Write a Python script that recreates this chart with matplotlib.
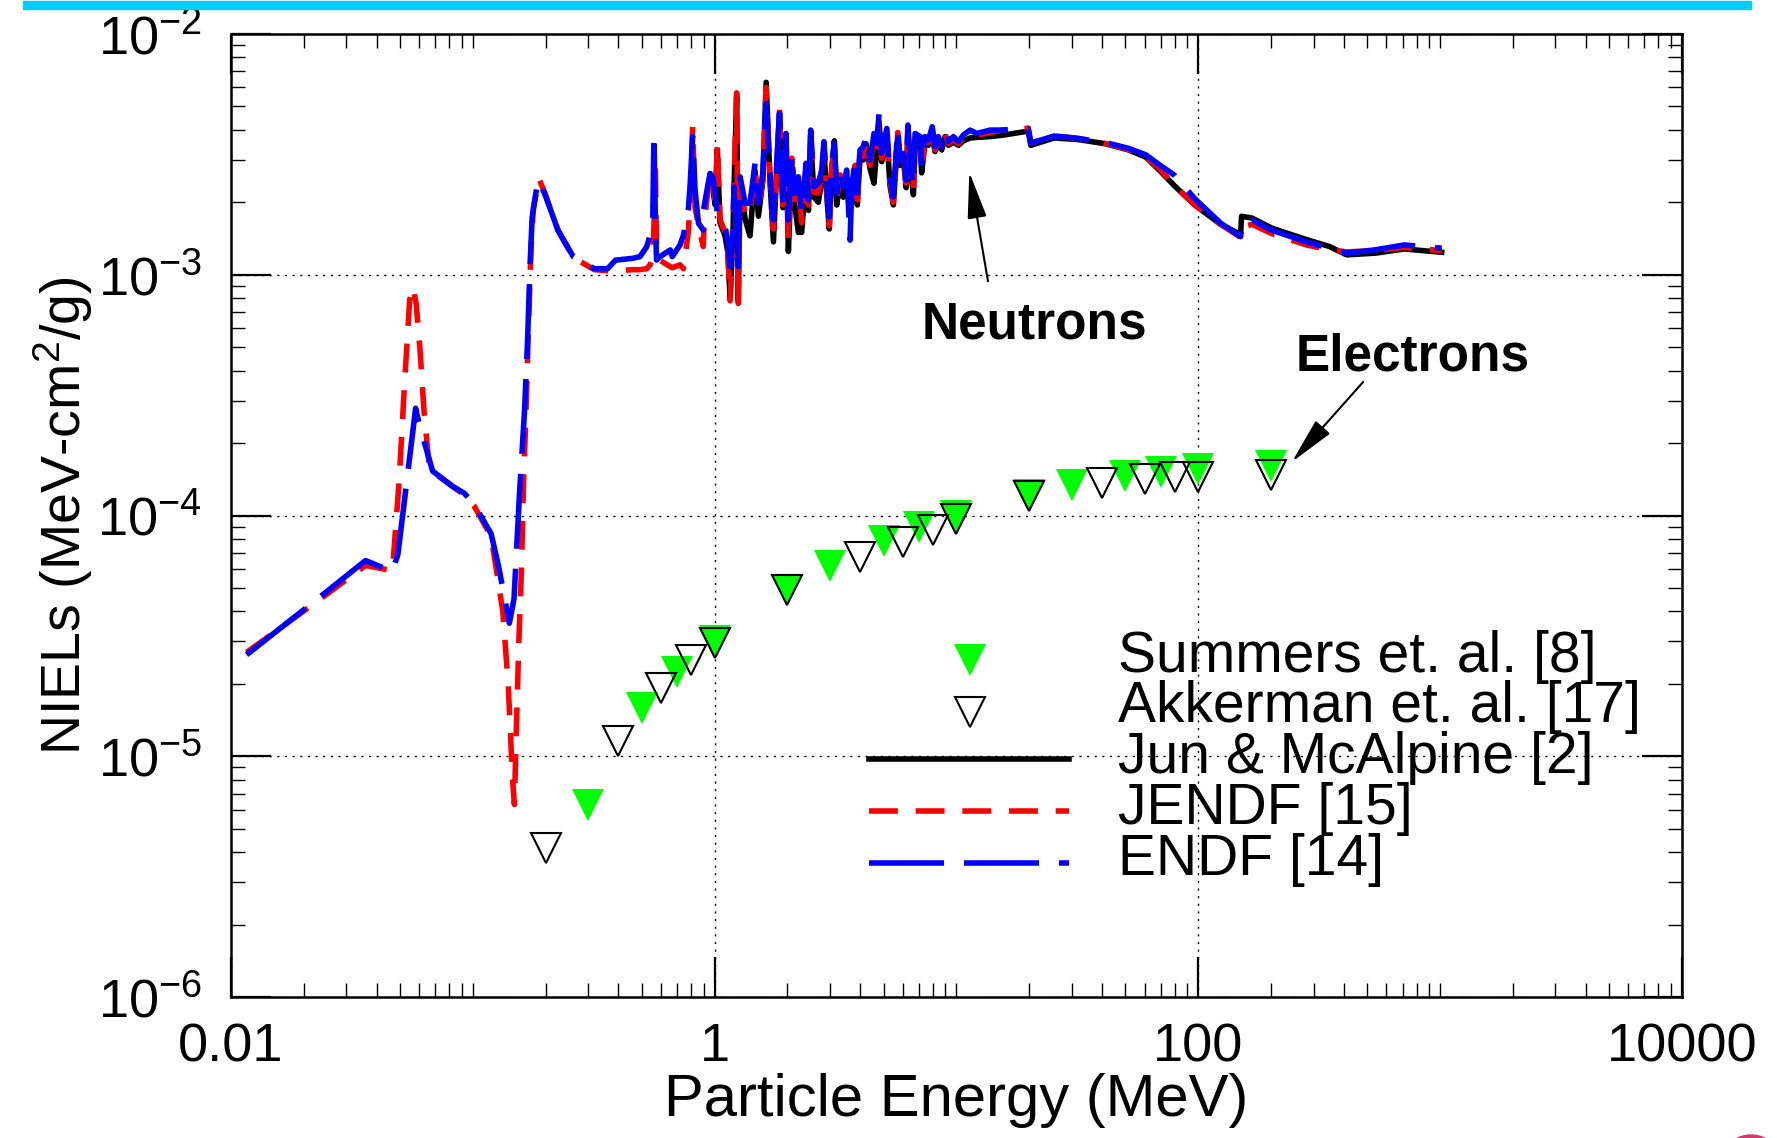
import matplotlib
matplotlib.use('Agg')
import matplotlib.pyplot as plt
from matplotlib.lines import Line2D
from matplotlib.patches import Rectangle, Ellipse
from matplotlib.ticker import LogLocator, FuncFormatter, NullFormatter

plt.rcParams['font.family'] = ['Liberation Sans', 'DejaVu Sans']
plt.rcParams['mathtext.fontset'] = 'custom'
plt.rcParams['mathtext.rm'] = 'Liberation Sans'
plt.rcParams['mathtext.it'] = 'Liberation Sans:italic'
plt.rcParams['mathtext.bf'] = 'Liberation Sans:bold'

# NIEL values below are in units of 1e-3 MeV-cm^2/g
# --- low energy part (below the resonance region)
endf_lo_e = [0.0116, 0.0234, 0.036, 0.0465, 0.049, 0.0527, 0.058, 0.0603, 0.0682, 0.0826,
             0.092, 0.101, 0.119, 0.128, 0.1416, 0.148, 0.156, 0.1637, 0.168, 0.1726,
             0.176, 0.186, 0.198, 0.225, 0.26, 0.318, 0.361, 0.389, 0.458]
endf_lo = [0.0264, 0.046, 0.065, 0.0585, 0.069, 0.126, 0.279, 0.235, 0.153, 0.132,
           0.124, 0.112, 0.084, 0.061, 0.0357, 0.045, 0.124, 0.275, 0.50, 1.12,
           1.74, 2.48, 2.18, 1.53, 1.19, 1.06, 1.06, 1.15, 1.17]

jendl_lo_e = [0.0116, 0.0234, 0.036, 0.0465, 0.0495, 0.0522, 0.0548, 0.0565, 0.0583, 0.0605,
              0.0628, 0.0662, 0.0826, 0.092, 0.101, 0.119, 0.125, 0.133, 0.140, 0.146,
              0.1486, 0.151, 0.155, 0.159, 0.162, 0.166, 0.170, 0.174, 0.178, 0.188,
              0.198, 0.225, 0.26, 0.318, 0.361, 0.40, 0.458]
jendl_lo = [0.027, 0.045, 0.062, 0.059, 0.136, 0.354, 0.785, 0.89, 0.76, 0.486,
            0.274, 0.155, 0.132, 0.122, 0.110, 0.082, 0.060, 0.040, 0.020, 0.008,
            0.0063, 0.012, 0.030, 0.061, 0.136, 0.274, 0.63, 1.27, 1.90, 2.50,
            2.20, 1.53, 1.18, 1.05, 1.04, 1.04, 1.05]

# --- resonance region (shared energy grid)
res_e = [0.491, 0.524, 0.541, 0.555, 0.561, 0.568, 0.575, 0.594, 0.655, 0.668,
         0.719, 0.743, 0.778, 0.791, 0.811, 0.830, 0.857, 0.897, 0.904, 0.957,
         0.982, 1.005, 1.026, 1.052, 1.104, 1.132, 1.159, 1.189, 1.202, 1.233,
         1.253, 1.274, 1.337, 1.400, 1.469, 1.517, 1.581, 1.633, 1.694, 1.750,
         1.795, 1.854, 1.914, 1.972, 2.018, 2.084, 2.138, 2.218, 2.291, 2.388,
         2.443, 2.495, 2.576, 2.685, 2.773, 2.831, 2.911, 2.979, 3.048, 3.126,
         3.199, 3.304, 3.404, 3.516, 3.631, 3.690, 3.811, 3.890, 3.990, 4.121,
         4.227, 4.395, 4.560, 4.677, 4.786, 4.909, 5.152, 5.309, 5.483, 5.715,
         5.848, 6.039, 6.194, 6.295, 6.427, 6.637, 6.745, 7.079, 7.178, 7.413,
         7.656, 7.943, 8.147, 8.414, 8.690, 8.974, 9.268, 9.705, 10.19, 10.69,
         11.38, 12.13, 13.77]
endf_res = [1.189, 1.309, 1.462, 1.742, 3.864, 1.799, 1.151, 1.189, 1.268, 1.189,
            1.330, 1.462, 1.858, 2.323, 3.750, 2.249, 1.637, 1.535, 1.919, 2.636,
            2.553, 2.178, 1.799, 1.687, 1.585, 1.393, 1.081, 1.393, 2.323, 1.393,
            1.081, 2.553, 1.982, 1.982, 2.904, 1.982, 2.636, 5.152, 2.636, 1.687,
            2.553, 4.677, 2.046, 3.864, 1.687, 3.192, 2.178, 2.553, 1.799, 2.904,
            2.046, 3.990, 2.323, 2.399, 2.723, 3.573, 2.323, 1.742, 2.904, 3.516,
            2.178, 2.723, 2.323, 2.723, 1.393, 2.323, 2.992, 2.178, 3.296, 3.404,
            3.750, 2.992, 3.864, 3.516, 4.677, 3.192, 4.055, 2.553, 2.109, 4.055,
            2.992, 3.192, 2.477, 4.188, 3.090, 2.323, 3.864, 3.750, 2.812, 3.750,
            3.631, 4.121, 3.404, 3.750, 3.404, 3.990, 3.573, 3.750, 3.573, 3.811,
            3.990, 3.864, 3.990]
jendl_res = [1.05, 1.06, 1.10, 1.20, 1.60, 3.00, 1.30, 1.15, 1.08, 1.07,
             1.10, 1.06, 1.50, 1.98, 4.12, 1.90, 1.60, 1.31, 1.60, 2.72,
             2.40, 2.05, 3.50, 1.70, 1.50, 1.30, 0.78, 1.45, 2.30, 5.70,
             0.76, 2.60, 1.75, 1.80, 2.80, 1.85, 2.50, 6.00, 2.50, 1.55,
             2.45, 4.85, 1.95, 3.70, 1.40, 3.05, 2.05, 2.45, 1.65, 2.80,
             1.95, 3.80, 2.20, 2.20, 2.60, 3.40, 2.20, 1.60, 2.80, 3.40,
             2.05, 2.60, 2.20, 2.50, 1.95, 2.20, 2.85, 2.05, 3.20, 3.10,
             3.60, 2.85, 3.70, 3.40, 4.40, 3.05, 3.90, 2.45, 2.00, 3.90,
             2.90, 3.10, 2.40, 4.00, 3.00, 2.20, 3.70, 3.65, 2.75, 3.65,
             3.55, 3.95, 3.30, 3.65, 3.35, 3.85, 3.50, 3.65, 3.50, 3.70,
             3.85, 3.80, 3.90]
# Jun & McAlpine starts at res_e[20] (~1 MeV)
jun_start = 20
jun_res = [2.30, 1.95, 3.30, 1.65, 1.45, 1.25, 0.80, 1.40, 2.25, 5.50,
           0.78, 2.50, 1.70, 1.45, 2.70, 1.75, 2.45, 6.30, 2.45, 1.37,
           2.40, 4.70, 1.90, 3.60, 1.25, 3.00, 2.00, 1.50, 1.50, 2.70,
           1.85, 3.70, 2.10, 2.00, 2.50, 3.30, 2.10, 1.55, 2.70, 3.60,
           1.95, 2.50, 2.10, 2.40, 1.85, 2.10, 2.75, 1.95, 3.10, 3.00,
           3.50, 2.75, 2.40, 3.30, 4.30, 2.95, 3.80, 2.35, 1.95, 3.80,
           2.85, 3.00, 2.30, 3.90, 2.90, 2.15, 3.60, 3.55, 2.65, 3.55,
           3.45, 3.85, 3.25, 3.55, 3.30, 3.75, 3.45, 3.55, 3.45, 3.60,
           3.70, 3.72, 3.75]

# --- high energy part
hi_e = [15.5, 19.8, 20.3, 25.3, 31.5, 41.4, 51.5, 60.7, 69.5, 79.8,
        96.7, 123.6, 149.6, 151, 166.7, 202, 280, 349, 411, 541, 711, 1015]
endf_hi = [3.99, 4.06, 3.52, 3.77, 3.69, 3.54, 3.35, 3.15, 2.85, 2.59,
           2.07, 1.64, 1.44, 1.66, 1.69, 1.53, 1.37, 1.29, 1.23, 1.27, 1.33, 1.29]
jendl_hi = [3.99, 4.06, 3.52, 3.77, 3.69, 3.51, 3.31, 3.09, 2.75, 2.34,
            1.95, 1.62, 1.43, 1.58, 1.62, 1.48, 1.33, 1.27, 1.245, 1.26, 1.30, 1.26]
jun_hi = [3.80, 3.95, 3.45, 3.70, 3.65, 3.50, 3.30, 3.08, 2.70, 2.34,
          1.95, 1.62, 1.47, 1.75, 1.72, 1.56, 1.40, 1.31, 1.21, 1.23, 1.28, 1.24]

# --- electron data (MeV, MeV-cm^2/g)
summers_e = [0.3, 0.5, 0.7, 1, 2, 3, 5, 7, 10, 20, 30, 50, 70, 100, 200]
summers_n = [6.27e-6, 1.58e-5, 2.24e-5, 3.01e-5, 4.9e-5, 6.18e-5, 7.85e-5, 9.0e-5,
             1.0e-4, 1.22e-4, 1.34e-4, 1.46e-4, 1.51e-4, 1.56e-4, 1.60e-4]
akk_e = [0.2, 0.4, 0.6, 0.8, 1, 2, 4, 6, 8, 10, 20, 40, 60, 80, 100, 200]
akk_n = [4.14e-6, 1.16e-5, 1.93e-5, 2.5e-5, 2.96e-5, 4.9e-5, 6.75e-5, 7.75e-5,
         8.7e-5, 9.7e-5, 1.2e-4, 1.37e-4, 1.42e-4, 1.44e-4, 1.45e-4, 1.48e-4]

labels = ['Summers et. al. [8]', 'Akkerman et. al. [17]', 'Jun & McAlpine [2]',
          'JENDF [15]', 'ENDF [14]']

GREEN = '#00ff00'
RED = '#ff0000'
BLUE = '#0000ff'
LW = 4
RED_DASH = (0, (5.2, 3.2))
BLUE_DASH = (0, (13.5, 3.6))


def milli(vals):
    return [v * 1e-3 for v in vals]


endf_e = endf_lo_e + res_e + hi_e
endf_n = milli(endf_lo + endf_res + endf_hi)
jendl_e = jendl_lo_e + res_e + hi_e
jendl_n = milli(jendl_lo + jendl_res + jendl_hi)
jun_e = res_e[jun_start:] + hi_e
jun_n = milli(jun_res + jun_hi)

fig = plt.figure(figsize=(17.77, 11.38), dpi=100)
fig.patches.append(Rectangle((23 / 1777, 1 - 9 / 1138), 1728 / 1777, 8 / 1138,
                             transform=fig.transFigure, color='#00ccff', zorder=0))
# sliver of a logo cut by the bottom edge
fig.patches.append(Ellipse((1751 / 1777, -12 / 1138), 44 / 1777, 30 / 1138,
                           transform=fig.transFigure, color='#d23a6e', zorder=0))

ax = fig.add_axes([0.130, 0.1239, 0.8165, 0.8462])
ax.set_xscale('log')
ax.set_yscale('log')

ax.plot(jun_e, jun_n, color='black', lw=LW, zorder=3)
ax.plot(jendl_e, jendl_n, color=RED, lw=LW, linestyle=RED_DASH, zorder=4)
ax.plot(endf_e, endf_n, color=BLUE, lw=LW, linestyle=BLUE_DASH, zorder=5)

ax.plot(summers_e, summers_n, linestyle='none', marker='v', ms=22.5,
        mfc=GREEN, mec=GREEN, mew=0, zorder=6)
ax.plot(akk_e, akk_n, linestyle='none', marker='v', ms=21,
        mfc='none', mec='black', mew=1.5, zorder=7)

ax.set_xlim(0.01, 10000)
ax.set_ylim(1e-6, 1e-2)

ax.xaxis.set_major_locator(LogLocator(base=100, numticks=10))
ax.xaxis.set_minor_locator(LogLocator(base=10, subs=range(1, 10), numticks=20))
ax.xaxis.set_major_formatter(FuncFormatter(lambda v, p: '%g' % v))
ax.xaxis.set_minor_formatter(NullFormatter())
ax.yaxis.set_major_locator(LogLocator(base=10, numticks=10))
ax.yaxis.set_minor_locator(LogLocator(base=10, subs=range(2, 10), numticks=20))
ax.yaxis.set_minor_formatter(NullFormatter())

ax.tick_params(which='both', direction='in', top=True, right=True, color='black')
ax.tick_params(which='major', length=29, width=1.6, labelsize=39)
ax.tick_params(which='minor', length=10, width=1.0)
ax.tick_params(axis='x', which='major', pad=18)
ax.tick_params(axis='y', which='major', pad=21)
for s in ax.spines.values():
    s.set_linewidth(1.8)

ax.grid(True, which='major', color='black', linestyle=(0, (1.5, 4)), linewidth=1.0)
ax.set_axisbelow(True)

ax.set_xlabel('Particle Energy (MeV)', fontsize=43)
ax.xaxis.set_label_coords(0.5, -0.079)
ax.set_ylabel('NIELs (MeV-cm$^2$/g)', fontsize=40)
ax.yaxis.set_label_coords(-0.094, 0.5)

# annotations
ax.annotate('', xy=(11.3, 2.67e-3), xytext=(13.5, 9.4e-4),
            arrowprops=dict(arrowstyle='-|>,head_length=1.45,head_width=0.3',
                            color='black', lw=1.5, mutation_scale=20,
                            shrinkA=0, shrinkB=0), zorder=8)
ax.text(21.1, 6.18e-4, 'Neutrons', fontsize=37, fontweight='bold',
        ha='center', va='center', zorder=8)
ax.annotate('', xy=(244, 1.67e-4), xytext=(481, 3.59e-4),
            arrowprops=dict(arrowstyle='-|>,head_length=1.45,head_width=0.3',
                            color='black', lw=1.5, mutation_scale=20,
                            shrinkA=0, shrinkB=0), zorder=8)
ax.text(773, 4.55e-4, 'Electrons', fontsize=37, fontweight='bold',
        ha='center', va='center', zorder=8)

# legend, drawn by hand to match the tight row spacing
lx0, lx1, lxm, ltx = 0.4397, 0.5775, 0.5093, 0.6113
row_mark = [0.350, 0.296, 0.2471, 0.1931, 0.1391]
row_text = [0.3375, 0.2859, 0.2323, 0.1796, 0.1267]
ax.add_line(Line2D([lxm], [row_mark[0]], transform=ax.transAxes, ls='none', marker='v',
                   ms=22.5, mfc=GREEN, mec=GREEN, mew=0, zorder=9))
ax.add_line(Line2D([lxm], [row_mark[1]], transform=ax.transAxes, ls='none', marker='v',
                   ms=21, mfc='white', mec='black', mew=1.5, zorder=9))
ax.add_line(Line2D([lx0, lx1], [row_mark[2]] * 2, transform=ax.transAxes,
                   color='black', lw=LW, zorder=9))
ax.add_line(Line2D([lx0, lx1], [row_mark[3]] * 2, transform=ax.transAxes,
                   color=RED, lw=LW, ls=RED_DASH, zorder=9))
ax.add_line(Line2D([lx0, lx1], [row_mark[4]] * 2, transform=ax.transAxes,
                   color=BLUE, lw=LW, ls=BLUE_DASH, zorder=9))
for lab, ty in zip(labels, row_text):
    ax.text(ltx, ty, lab, transform=ax.transAxes, fontsize=41,
            ha='left', va='baseline', zorder=9)

fig.savefig('out.png', dpi=100)
